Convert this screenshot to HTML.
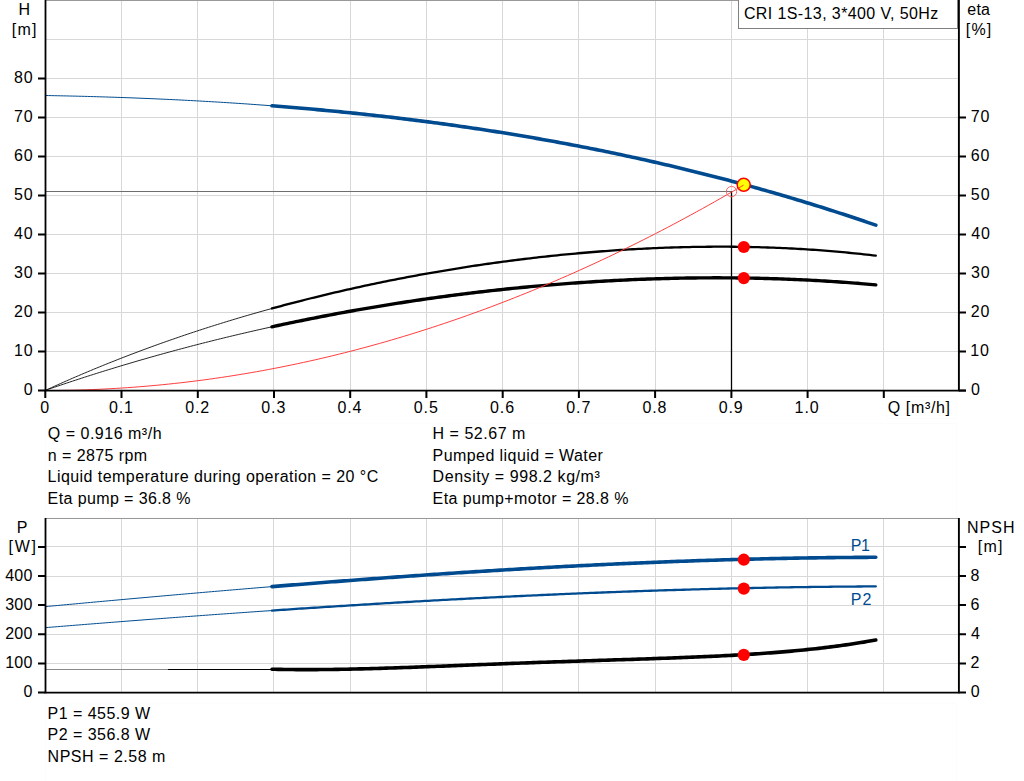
<!DOCTYPE html>
<html><head><meta charset="utf-8"><style>
html,body{margin:0;padding:0;background:#fff;}
body{width:1024px;height:781px;overflow:hidden;}
svg{display:block;}
text{font-family:"Liberation Sans",sans-serif;font-size:16px;fill:#000;}
</style></head><body>
<svg width="1024" height="781" viewBox="0 0 1024 781">

<rect x="45.5" y="423.5" width="911" height="94" fill="none" stroke="#fcfcfc"/>
<rect x="45.5" y="703.5" width="911" height="80" fill="none" stroke="#fcfcfc"/>
<rect x="886.5" y="396.5" width="70" height="22" fill="none" stroke="#fcfcfc"/>
<path d="M121.5 1.0 V390.5 M197.5 1.0 V390.5 M273.5 1.0 V390.5 M350.5 1.0 V390.5 M426.5 1.0 V390.5 M502.5 1.0 V390.5 M578.5 1.0 V390.5 M655.5 1.0 V390.5 M731.5 1.0 V390.5 M807.5 1.0 V390.5 M883.5 1.0 V390.5 M45.5 351.5 H959.0 M45.5 312.5 H959.0 M45.5 273.5 H959.0 M45.5 234.5 H959.0 M45.5 195.5 H959.0 M45.5 156.5 H959.0 M45.5 117.5 H959.0 M45.5 78.5 H959.0 M45.5 39.5 H959.0" stroke="#d6d8da" stroke-width="1" fill="none"/>
<path d="M45 0.5 H959" stroke="#999" stroke-width="1"/>
<path d="M45 191.5 H731.5" stroke="#6e6e6e" stroke-width="1" fill="none"/>
<path d="M731.5 191.5 V390.5" stroke="#000" stroke-width="1.3" fill="none"/>
<path d="M45.30 95.51 L48.32 95.56 L51.35 95.62 L54.37 95.68 L57.39 95.74 L60.41 95.80 L63.44 95.87 L66.46 95.93 L69.48 96.00 L72.50 96.07 L75.53 96.14 L78.55 96.22 L81.57 96.29 L84.59 96.37 L87.62 96.45 L90.64 96.54 L93.66 96.62 L96.69 96.71 L99.71 96.80 L102.73 96.89 L105.75 96.98 L108.78 97.08 L111.80 97.17 L114.82 97.27 L117.84 97.38 L120.87 97.48 L123.89 97.59 L126.91 97.70 L129.93 97.81 L132.96 97.92 L135.98 98.04 L139.00 98.16 L142.03 98.28 L145.05 98.40 L148.07 98.52 L151.09 98.65 L154.12 98.78 L157.14 98.91 L160.16 99.05 L163.18 99.18 L166.21 99.32 L169.23 99.46 L172.25 99.61 L175.27 99.75 L178.30 99.90 L181.32 100.05 L184.34 100.21 L187.37 100.36 L190.39 100.52 L193.41 100.68 L196.43 100.85 L199.46 101.02 L202.48 101.18 L205.50 101.36 L208.52 101.53 L211.55 101.71 L214.57 101.89 L217.59 102.07 L220.61 102.25 L223.64 102.44 L226.66 102.63 L229.68 102.82 L232.71 103.02 L235.73 103.21 L238.75 103.41 L241.77 103.62 L244.80 103.82 L247.82 104.03 L250.84 104.24 L253.86 104.46 L256.89 104.68 L259.91 104.90 L262.93 105.12 L265.95 105.34 L268.98 105.57 L272.00 105.80" stroke="#004b8f" stroke-width="1" fill="none"/>
<path d="M272.00 105.80 L275.00 106.03 L278.01 106.27 L281.01 106.51 L284.02 106.75 L287.02 106.99 L290.02 107.24 L293.03 107.49 L296.03 107.74 L299.04 108.00 L302.04 108.25 L305.04 108.52 L308.05 108.78 L311.05 109.05 L314.06 109.32 L317.06 109.59 L320.06 109.87 L323.07 110.14 L326.07 110.43 L329.08 110.71 L332.08 111.00 L335.08 111.29 L338.09 111.58 L341.09 111.88 L344.10 112.18 L347.10 112.48 L350.10 112.79 L353.11 113.10 L356.11 113.41 L359.12 113.73 L362.12 114.05 L365.12 114.37 L368.13 114.70 L371.13 115.02 L374.14 115.36 L377.14 115.69 L380.14 116.03 L383.15 116.37 L386.15 116.72 L389.16 117.06 L392.16 117.41 L395.16 117.77 L398.17 118.13 L401.17 118.49 L404.18 118.85 L407.18 119.22 L410.18 119.59 L413.19 119.97 L416.19 120.34 L419.20 120.73 L422.20 121.11 L425.20 121.50 L428.21 121.89 L431.21 122.28 L434.21 122.68 L437.22 123.08 L440.22 123.49 L443.23 123.90 L446.23 124.31 L449.23 124.73 L452.24 125.15 L455.24 125.57 L458.25 125.99 L461.25 126.42 L464.25 126.86 L467.26 127.30 L470.26 127.74 L473.27 128.18 L476.27 128.63 L479.27 129.08 L482.28 129.53 L485.28 129.99 L488.29 130.46 L491.29 130.92 L494.29 131.39 L497.30 131.86 L500.30 132.34 L503.31 132.82 L506.31 133.31 L509.31 133.80 L512.32 134.29 L515.32 134.78 L518.33 135.28 L521.33 135.79 L524.33 136.29 L527.34 136.80 L530.34 137.32 L533.35 137.84 L536.35 138.36 L539.35 138.89 L542.36 139.42 L545.36 139.95 L548.37 140.49 L551.37 141.03 L554.37 141.58 L557.38 142.13 L560.38 142.68 L563.39 143.24 L566.39 143.80 L569.39 144.37 L572.40 144.94 L575.40 145.51 L578.41 146.09 L581.41 146.67 L584.41 147.25 L587.42 147.84 L590.42 148.44 L593.43 149.04 L596.43 149.64 L599.43 150.24 L602.44 150.86 L605.44 151.47 L608.45 152.09 L611.45 152.71 L614.45 153.34 L617.46 153.97 L620.46 154.60 L623.47 155.24 L626.47 155.89 L629.47 156.54 L632.48 157.19 L635.48 157.84 L638.49 158.50 L641.49 159.17 L644.49 159.84 L647.50 160.51 L650.50 161.19 L653.51 161.87 L656.51 162.56 L659.51 163.25 L662.52 163.94 L665.52 164.64 L668.53 165.35 L671.53 166.06 L674.53 166.77 L677.54 167.48 L680.54 168.21 L683.55 168.93 L686.55 169.66 L689.55 170.40 L692.56 171.14 L695.56 171.88 L698.57 172.63 L701.57 173.38 L704.57 174.14 L707.58 174.90 L710.58 175.67 L713.59 176.44 L716.59 177.21 L719.59 177.99 L722.60 178.78 L725.60 179.57 L728.60 180.36 L731.61 181.16 L734.61 181.96 L737.62 182.77 L740.62 183.58 L743.62 184.40 L746.63 185.22 L749.63 186.05 L752.64 186.88 L755.64 187.72 L758.64 188.56 L761.65 189.40 L764.65 190.25 L767.66 191.11 L770.66 191.97 L773.66 192.83 L776.67 193.70 L779.67 194.58 L782.68 195.46 L785.68 196.34 L788.68 197.23 L791.69 198.12 L794.69 199.02 L797.70 199.92 L800.70 200.83 L803.70 201.75 L806.71 202.66 L809.71 203.59 L812.72 204.52 L815.72 205.45 L818.72 206.39 L821.73 207.33 L824.73 208.28 L827.74 209.23 L830.74 210.19 L833.74 211.15 L836.75 212.12 L839.75 213.09 L842.76 214.07 L845.76 215.06 L848.76 216.04 L851.77 217.04 L854.77 218.04 L857.78 219.04 L860.78 220.05 L863.78 221.06 L866.79 222.08 L869.79 223.11 L872.80 224.14 L875.80 225.17" stroke="#004b8f" stroke-width="3.6" fill="none" stroke-linecap="round"/>
<path d="M45.30 390.42 L48.32 389.04 L51.35 387.66 L54.37 386.29 L57.39 384.93 L60.41 383.58 L63.44 382.23 L66.46 380.90 L69.48 379.58 L72.50 378.26 L75.53 376.95 L78.55 375.65 L81.57 374.36 L84.59 373.08 L87.62 371.81 L90.64 370.54 L93.66 369.28 L96.69 368.04 L99.71 366.80 L102.73 365.56 L105.75 364.34 L108.78 363.13 L111.80 361.92 L114.82 360.72 L117.84 359.53 L120.87 358.34 L123.89 357.17 L126.91 356.00 L129.93 354.84 L132.96 353.69 L135.98 352.55 L139.00 351.41 L142.03 350.28 L145.05 349.16 L148.07 348.05 L151.09 346.94 L154.12 345.84 L157.14 344.75 L160.16 343.67 L163.18 342.59 L166.21 341.52 L169.23 340.46 L172.25 339.41 L175.27 338.36 L178.30 337.32 L181.32 336.29 L184.34 335.26 L187.37 334.24 L190.39 333.23 L193.41 332.23 L196.43 331.23 L199.46 330.24 L202.48 329.25 L205.50 328.28 L208.52 327.31 L211.55 326.34 L214.57 325.39 L217.59 324.44 L220.61 323.50 L223.64 322.56 L226.66 321.63 L229.68 320.71 L232.71 319.79 L235.73 318.88 L238.75 317.98 L241.77 317.08 L244.80 316.19 L247.82 315.31 L250.84 314.43 L253.86 313.56 L256.89 312.70 L259.91 311.84 L262.93 310.99 L265.95 310.14 L268.98 309.30 L272.00 308.47" stroke="#1a1a1a" stroke-width="0.95" fill="none"/>
<path d="M272.00 308.47 L275.00 307.65 L278.01 306.83 L281.01 306.02 L284.02 305.22 L287.02 304.42 L290.02 303.63 L293.03 302.84 L296.03 302.06 L299.04 301.29 L302.04 300.52 L305.04 299.76 L308.05 299.00 L311.05 298.25 L314.06 297.51 L317.06 296.77 L320.06 296.04 L323.07 295.31 L326.07 294.59 L329.08 293.87 L332.08 293.16 L335.08 292.46 L338.09 291.76 L341.09 291.07 L344.10 290.38 L347.10 289.70 L350.10 289.02 L353.11 288.35 L356.11 287.69 L359.12 287.03 L362.12 286.37 L365.12 285.72 L368.13 285.08 L371.13 284.44 L374.14 283.81 L377.14 283.18 L380.14 282.56 L383.15 281.95 L386.15 281.34 L389.16 280.73 L392.16 280.13 L395.16 279.54 L398.17 278.95 L401.17 278.37 L404.18 277.79 L407.18 277.22 L410.18 276.65 L413.19 276.09 L416.19 275.53 L419.20 274.98 L422.20 274.44 L425.20 273.90 L428.21 273.36 L431.21 272.83 L434.21 272.31 L437.22 271.79 L440.22 271.27 L443.23 270.76 L446.23 270.26 L449.23 269.76 L452.24 269.27 L455.24 268.78 L458.25 268.30 L461.25 267.82 L464.25 267.35 L467.26 266.88 L470.26 266.42 L473.27 265.96 L476.27 265.51 L479.27 265.06 L482.28 264.62 L485.28 264.19 L488.29 263.76 L491.29 263.33 L494.29 262.91 L497.30 262.50 L500.30 262.09 L503.31 261.68 L506.31 261.28 L509.31 260.89 L512.32 260.50 L515.32 260.11 L518.33 259.74 L521.33 259.36 L524.33 258.99 L527.34 258.63 L530.34 258.27 L533.35 257.92 L536.35 257.57 L539.35 257.23 L542.36 256.89 L545.36 256.56 L548.37 256.24 L551.37 255.92 L554.37 255.60 L557.38 255.29 L560.38 254.98 L563.39 254.68 L566.39 254.39 L569.39 254.10 L572.40 253.82 L575.40 253.54 L578.41 253.27 L581.41 253.00 L584.41 252.73 L587.42 252.48 L590.42 252.23 L593.43 251.98 L596.43 251.74 L599.43 251.50 L602.44 251.27 L605.44 251.05 L608.45 250.83 L611.45 250.61 L614.45 250.41 L617.46 250.20 L620.46 250.01 L623.47 249.81 L626.47 249.63 L629.47 249.45 L632.48 249.27 L635.48 249.10 L638.49 248.94 L641.49 248.78 L644.49 248.63 L647.50 248.48 L650.50 248.34 L653.51 248.20 L656.51 248.07 L659.51 247.95 L662.52 247.83 L665.52 247.72 L668.53 247.61 L671.53 247.51 L674.53 247.41 L677.54 247.32 L680.54 247.24 L683.55 247.16 L686.55 247.09 L689.55 247.03 L692.56 246.97 L695.56 246.91 L698.57 246.86 L701.57 246.82 L704.57 246.79 L707.58 246.76 L710.58 246.73 L713.59 246.72 L716.59 246.70 L719.59 246.70 L722.60 246.70 L725.60 246.71 L728.60 246.72 L731.61 246.74 L734.61 246.77 L737.62 246.80 L740.62 246.84 L743.62 246.88 L746.63 246.93 L749.63 246.99 L752.64 247.06 L755.64 247.13 L758.64 247.20 L761.65 247.29 L764.65 247.38 L767.66 247.48 L770.66 247.58 L773.66 247.69 L776.67 247.81 L779.67 247.93 L782.68 248.06 L785.68 248.20 L788.68 248.35 L791.69 248.50 L794.69 248.66 L797.70 248.82 L800.70 248.99 L803.70 249.17 L806.71 249.36 L809.71 249.55 L812.72 249.76 L815.72 249.96 L818.72 250.18 L821.73 250.40 L824.73 250.63 L827.74 250.87 L830.74 251.11 L833.74 251.37 L836.75 251.62 L839.75 251.89 L842.76 252.17 L845.76 252.45 L848.76 252.74 L851.77 253.03 L854.77 253.34 L857.78 253.65 L860.78 253.97 L863.78 254.30 L866.79 254.64 L869.79 254.98 L872.80 255.33 L875.80 255.69" stroke="#000" stroke-width="2.3" fill="none" stroke-linecap="round"/>
<path d="M45.30 390.38 L48.32 389.33 L51.35 388.29 L54.37 387.26 L57.39 386.23 L60.41 385.21 L63.44 384.19 L66.46 383.18 L69.48 382.17 L72.50 381.17 L75.53 380.18 L78.55 379.19 L81.57 378.21 L84.59 377.23 L87.62 376.26 L90.64 375.29 L93.66 374.33 L96.69 373.37 L99.71 372.42 L102.73 371.48 L105.75 370.54 L108.78 369.61 L111.80 368.68 L114.82 367.75 L117.84 366.84 L120.87 365.92 L123.89 365.02 L126.91 364.12 L129.93 363.22 L132.96 362.33 L135.98 361.44 L139.00 360.56 L142.03 359.69 L145.05 358.82 L148.07 357.95 L151.09 357.09 L154.12 356.24 L157.14 355.39 L160.16 354.55 L163.18 353.71 L166.21 352.87 L169.23 352.04 L172.25 351.22 L175.27 350.40 L178.30 349.59 L181.32 348.78 L184.34 347.98 L187.37 347.18 L190.39 346.38 L193.41 345.59 L196.43 344.81 L199.46 344.03 L202.48 343.26 L205.50 342.49 L208.52 341.73 L211.55 340.97 L214.57 340.21 L217.59 339.46 L220.61 338.72 L223.64 337.98 L226.66 337.25 L229.68 336.52 L232.71 335.79 L235.73 335.07 L238.75 334.36 L241.77 333.64 L244.80 332.94 L247.82 332.24 L250.84 331.54 L253.86 330.85 L256.89 330.16 L259.91 329.48 L262.93 328.80 L265.95 328.13 L268.98 327.46 L272.00 326.80" stroke="#1a1a1a" stroke-width="0.95" fill="none"/>
<path d="M272.00 326.80 L275.00 326.14 L278.01 325.49 L281.01 324.85 L284.02 324.21 L287.02 323.57 L290.02 322.94 L293.03 322.31 L296.03 321.69 L299.04 321.07 L302.04 320.46 L305.04 319.85 L308.05 319.24 L311.05 318.64 L314.06 318.05 L317.06 317.46 L320.06 316.87 L323.07 316.29 L326.07 315.71 L329.08 315.14 L332.08 314.57 L335.08 314.01 L338.09 313.45 L341.09 312.89 L344.10 312.34 L347.10 311.79 L350.10 311.25 L353.11 310.71 L356.11 310.18 L359.12 309.65 L362.12 309.13 L365.12 308.61 L368.13 308.09 L371.13 307.58 L374.14 307.07 L377.14 306.57 L380.14 306.07 L383.15 305.58 L386.15 305.09 L389.16 304.60 L392.16 304.12 L395.16 303.65 L398.17 303.17 L401.17 302.71 L404.18 302.24 L407.18 301.78 L410.18 301.33 L413.19 300.88 L416.19 300.43 L419.20 299.99 L422.20 299.55 L425.20 299.12 L428.21 298.69 L431.21 298.27 L434.21 297.85 L437.22 297.43 L440.22 297.02 L443.23 296.61 L446.23 296.21 L449.23 295.81 L452.24 295.41 L455.24 295.02 L458.25 294.64 L461.25 294.26 L464.25 293.88 L467.26 293.51 L470.26 293.14 L473.27 292.77 L476.27 292.41 L479.27 292.06 L482.28 291.71 L485.28 291.36 L488.29 291.02 L491.29 290.68 L494.29 290.34 L497.30 290.01 L500.30 289.69 L503.31 289.37 L506.31 289.05 L509.31 288.74 L512.32 288.43 L515.32 288.13 L518.33 287.83 L521.33 287.53 L524.33 287.24 L527.34 286.95 L530.34 286.67 L533.35 286.39 L536.35 286.12 L539.35 285.85 L542.36 285.58 L545.36 285.32 L548.37 285.07 L551.37 284.81 L554.37 284.57 L557.38 284.32 L560.38 284.08 L563.39 283.85 L566.39 283.62 L569.39 283.39 L572.40 283.17 L575.40 282.95 L578.41 282.74 L581.41 282.53 L584.41 282.33 L587.42 282.13 L590.42 281.93 L593.43 281.74 L596.43 281.56 L599.43 281.38 L602.44 281.20 L605.44 281.03 L608.45 280.86 L611.45 280.69 L614.45 280.53 L617.46 280.38 L620.46 280.23 L623.47 280.08 L626.47 279.94 L629.47 279.80 L632.48 279.67 L635.48 279.54 L638.49 279.42 L641.49 279.30 L644.49 279.18 L647.50 279.07 L650.50 278.97 L653.51 278.87 L656.51 278.77 L659.51 278.68 L662.52 278.59 L665.52 278.51 L668.53 278.43 L671.53 278.36 L674.53 278.29 L677.54 278.23 L680.54 278.17 L683.55 278.11 L686.55 278.06 L689.55 278.02 L692.56 277.98 L695.56 277.94 L698.57 277.91 L701.57 277.88 L704.57 277.86 L707.58 277.84 L710.58 277.83 L713.59 277.82 L716.59 277.82 L719.59 277.82 L722.60 277.83 L725.60 277.84 L728.60 277.86 L731.61 277.88 L734.61 277.90 L737.62 277.93 L740.62 277.97 L743.62 278.01 L746.63 278.06 L749.63 278.11 L752.64 278.16 L755.64 278.22 L758.64 278.29 L761.65 278.36 L764.65 278.43 L767.66 278.51 L770.66 278.60 L773.66 278.69 L776.67 278.78 L779.67 278.89 L782.68 278.99 L785.68 279.10 L788.68 279.22 L791.69 279.34 L794.69 279.46 L797.70 279.60 L800.70 279.73 L803.70 279.87 L806.71 280.02 L809.71 280.17 L812.72 280.33 L815.72 280.49 L818.72 280.66 L821.73 280.83 L824.73 281.01 L827.74 281.19 L830.74 281.38 L833.74 281.58 L836.75 281.78 L839.75 281.98 L842.76 282.19 L845.76 282.41 L848.76 282.63 L851.77 282.85 L854.77 283.09 L857.78 283.32 L860.78 283.57 L863.78 283.82 L866.79 284.07 L869.79 284.33 L872.80 284.59 L875.80 284.87" stroke="#000" stroke-width="3.4" fill="none" stroke-linecap="round"/>
<circle cx="743.8" cy="247" r="6.1" fill="#ff0000"/>
<circle cx="743.8" cy="278.1" r="6.1" fill="#ff0000"/>
<circle cx="743.7" cy="184.8" r="6.5" fill="#ffff00" stroke="#ff0000" stroke-width="1.5"/>
<path d="M45.30 390.50 L51.17 390.49 L57.04 390.44 L62.90 390.37 L68.77 390.27 L74.64 390.14 L80.51 389.98 L86.37 389.79 L92.24 389.57 L98.11 389.33 L103.98 389.05 L109.85 388.74 L115.71 388.41 L121.58 388.05 L127.45 387.66 L133.32 387.24 L139.18 386.79 L145.05 386.31 L150.92 385.80 L156.79 385.26 L162.66 384.70 L168.52 384.10 L174.39 383.48 L180.26 382.83 L186.13 382.15 L191.99 381.43 L197.86 380.69 L203.73 379.93 L209.60 379.13 L215.47 378.30 L221.33 377.45 L227.20 376.56 L233.07 375.65 L238.94 374.70 L244.80 373.73 L250.67 372.73 L256.54 371.70 L262.41 370.64 L268.28 369.55 L274.14 368.44 L280.01 367.29 L285.88 366.12 L291.75 364.91 L297.61 363.68 L303.48 362.42 L309.35 361.13 L315.22 359.81 L321.09 358.46 L326.95 357.08 L332.82 355.67 L338.69 354.24 L344.56 352.77 L350.42 351.28 L356.29 349.76 L362.16 348.20 L368.03 346.62 L373.90 345.01 L379.76 343.37 L385.63 341.71 L391.50 340.01 L397.37 338.28 L403.24 336.53 L409.10 334.74 L414.97 332.93 L420.84 331.09 L426.71 329.22 L432.57 327.32 L438.44 325.39 L444.31 323.43 L450.18 321.44 L456.05 319.43 L461.91 317.38 L467.78 315.31 L473.65 313.20 L479.52 311.07 L485.38 308.91 L491.25 306.72 L497.12 304.50 L502.99 302.25 L508.86 299.98 L514.72 297.67 L520.59 295.33 L526.46 292.97 L532.33 290.58 L538.19 288.15 L544.06 285.70 L549.93 283.22 L555.80 280.71 L561.67 278.17 L567.53 275.61 L573.40 273.01 L579.27 270.39 L585.14 267.73 L591.00 265.05 L596.87 262.33 L602.74 259.59 L608.61 256.82 L614.48 254.02 L620.34 251.20 L626.21 248.34 L632.08 245.45 L637.95 242.54 L643.81 239.59 L649.68 236.62 L655.55 233.62 L661.42 230.58 L667.29 227.52 L673.15 224.43 L679.02 221.32 L684.89 218.17 L690.76 214.99 L696.62 211.79 L702.49 208.55 L708.36 205.29 L714.23 201.99 L720.10 198.67 L725.96 195.32 L731.83 191.94 L737.70 188.53 L743.57 185.10" stroke="#ff3333" stroke-width="0.95" fill="none"/>
<circle cx="731.5" cy="191.6" r="5.2" fill="none" stroke="#ff6666" stroke-width="1"/>
<path d="M45.5 0 V391.3" stroke="#000" stroke-width="1.8" fill="none"/>
<path d="M44.6 390.6 H966" stroke="#000" stroke-width="1.6" fill="none"/>
<path d="M958.9 0 V391.3" stroke="#000" stroke-width="1.9" fill="none"/>
<path d="M38 390.5 H45 M38 351.5 H45 M38 312.5 H45 M38 273.5 H45 M38 234.5 H45 M38 195.5 H45 M38 156.5 H45 M38 117.5 H45 M38 78.5 H45 M959 390.5 H966 M959 351.5 H966 M959 312.5 H966 M959 273.5 H966 M959 234.5 H966 M959 195.5 H966 M959 156.5 H966 M959 117.5 H966 M45.3 390.5 V398 M121.5 390.5 V398 M197.8 390.5 V398 M274.0 390.5 V398 M350.2 390.5 V398 M426.4 390.5 V398 M502.7 390.5 V398 M578.9 390.5 V398 M655.1 390.5 V398 M731.4 390.5 V398 M807.6 390.5 V398 M883.8 390.5 V398" stroke="#000" stroke-width="2" fill="none"/>
<text x="23.73" y="395.30" style="letter-spacing:0.900px;">0</text>
<text x="13.93" y="356.30" style="letter-spacing:0.900px;">10</text>
<text x="13.93" y="317.30" style="letter-spacing:0.900px;">20</text>
<text x="13.93" y="278.30" style="letter-spacing:0.900px;">30</text>
<text x="13.93" y="239.30" style="letter-spacing:0.900px;">40</text>
<text x="13.93" y="200.30" style="letter-spacing:0.900px;">50</text>
<text x="13.93" y="161.30" style="letter-spacing:0.900px;">60</text>
<text x="13.93" y="122.30" style="letter-spacing:0.900px;">70</text>
<text x="13.93" y="83.30" style="letter-spacing:0.900px;">80</text>
<text x="970.88" y="395.30" style="letter-spacing:0.900px;">0</text>
<text x="970.28" y="356.30" style="letter-spacing:0.900px;">10</text>
<text x="970.70" y="317.30" style="letter-spacing:0.900px;">20</text>
<text x="970.89" y="278.30" style="letter-spacing:0.900px;">30</text>
<text x="971.13" y="239.30" style="letter-spacing:0.900px;">40</text>
<text x="970.86" y="200.30" style="letter-spacing:0.900px;">50</text>
<text x="970.69" y="161.30" style="letter-spacing:0.900px;">60</text>
<text x="970.68" y="122.30" style="letter-spacing:0.900px;">70</text>
<text x="40.15" y="412.80" style="letter-spacing:0.900px;">0</text>
<text x="108.89" y="412.80" style="letter-spacing:0.900px;">0.1</text>
<text x="185.13" y="412.80" style="letter-spacing:0.900px;">0.2</text>
<text x="261.31" y="412.80" style="letter-spacing:0.900px;">0.3</text>
<text x="337.42" y="412.80" style="letter-spacing:0.900px;">0.4</text>
<text x="413.75" y="412.80" style="letter-spacing:0.900px;">0.5</text>
<text x="490.00" y="412.80" style="letter-spacing:0.900px;">0.6</text>
<text x="566.28" y="412.80" style="letter-spacing:0.900px;">0.7</text>
<text x="642.45" y="412.80" style="letter-spacing:0.900px;">0.8</text>
<text x="718.72" y="412.80" style="letter-spacing:0.900px;">0.9</text>
<text x="794.58" y="412.80" style="letter-spacing:0.900px;">1.0</text>
<text x="887.64" y="413.00" style="letter-spacing:0.660px;">Q [m³/h]</text>
<text x="18.59" y="15.00" style="letter-spacing:0.000px;">H</text>
<text x="11.66" y="34.80" style="letter-spacing:1.281px;">[m]</text>
<text x="967.22" y="15.20" style="letter-spacing:0.269px;">eta</text>
<text x="965.86" y="34.80" style="letter-spacing:1.082px;">[%]</text>
<rect x="738.5" y="-1" width="219" height="29.5" fill="#fff" stroke="#808080" stroke-width="1"/>
<text x="743.89" y="18.80" style="letter-spacing:0.398px;">CRI 1S-13, 3*400 V, 50Hz</text>
<text x="47.84" y="438.75" style="letter-spacing:0.503px;">Q = 0.916 m³/h</text>
<text x="47.84" y="460.50" style="letter-spacing:0.417px;">n = 2875 rpm</text>
<text x="47.59" y="481.90" style="letter-spacing:0.445px;">Liquid temperature during operation = 20 °C</text>
<text x="47.59" y="503.80" style="letter-spacing:0.397px;">Eta pump = 36.8 %</text>
<text x="432.59" y="438.75" style="letter-spacing:0.517px;">H = 52.67 m</text>
<text x="432.59" y="460.50" style="letter-spacing:0.429px;">Pumped liquid = Water</text>
<text x="432.59" y="481.90" style="letter-spacing:0.558px;">Density = 998.2 kg/m³</text>
<text x="432.59" y="503.80" style="letter-spacing:0.410px;">Eta pump+motor = 28.8 %</text>
<path d="M121.5 519.0 V692.0 M197.5 519.0 V692.0 M273.5 519.0 V692.0 M350.5 519.0 V692.0 M426.5 519.0 V692.0 M502.5 519.0 V692.0 M578.5 519.0 V692.0 M655.5 519.0 V692.0 M731.5 519.0 V692.0 M807.5 519.0 V692.0 M883.5 519.0 V692.0 M45.5 663.5 H959.0 M45.5 634.5 H959.0 M45.5 605.5 H959.0 M45.5 576.5 H959.0 M45.5 546.5 H959.0" stroke="#d6d8da" stroke-width="1" fill="none"/>
<path d="M45 518.5 H959" stroke="#999" stroke-width="1"/>
<path d="M45.30 606.62 L48.32 606.34 L51.35 606.06 L54.37 605.78 L57.39 605.50 L60.41 605.22 L63.44 604.94 L66.46 604.66 L69.48 604.38 L72.50 604.11 L75.53 603.83 L78.55 603.55 L81.57 603.27 L84.59 602.99 L87.62 602.72 L90.64 602.44 L93.66 602.16 L96.69 601.89 L99.71 601.61 L102.73 601.34 L105.75 601.06 L108.78 600.79 L111.80 600.51 L114.82 600.24 L117.84 599.97 L120.87 599.69 L123.89 599.42 L126.91 599.15 L129.93 598.87 L132.96 598.60 L135.98 598.33 L139.00 598.06 L142.03 597.79 L145.05 597.52 L148.07 597.25 L151.09 596.98 L154.12 596.71 L157.14 596.44 L160.16 596.18 L163.18 595.91 L166.21 595.64 L169.23 595.37 L172.25 595.11 L175.27 594.84 L178.30 594.58 L181.32 594.31 L184.34 594.05 L187.37 593.78 L190.39 593.52 L193.41 593.26 L196.43 593.00 L199.46 592.73 L202.48 592.47 L205.50 592.21 L208.52 591.95 L211.55 591.69 L214.57 591.43 L217.59 591.18 L220.61 590.92 L223.64 590.66 L226.66 590.40 L229.68 590.15 L232.71 589.89 L235.73 589.64 L238.75 589.38 L241.77 589.13 L244.80 588.87 L247.82 588.62 L250.84 588.37 L253.86 588.12 L256.89 587.87 L259.91 587.62 L262.93 587.37 L265.95 587.12 L268.98 586.87 L272.00 586.62" stroke="#004b8f" stroke-width="1" fill="none"/>
<path d="M272.00 586.62 L275.00 586.37 L278.01 586.13 L281.01 585.88 L284.02 585.64 L287.02 585.40 L290.02 585.16 L293.03 584.91 L296.03 584.67 L299.04 584.43 L302.04 584.19 L305.04 583.95 L308.05 583.71 L311.05 583.48 L314.06 583.24 L317.06 583.00 L320.06 582.77 L323.07 582.53 L326.07 582.30 L329.08 582.07 L332.08 581.83 L335.08 581.60 L338.09 581.37 L341.09 581.14 L344.10 580.91 L347.10 580.68 L350.10 580.45 L353.11 580.23 L356.11 580.00 L359.12 579.78 L362.12 579.55 L365.12 579.33 L368.13 579.10 L371.13 578.88 L374.14 578.66 L377.14 578.44 L380.14 578.22 L383.15 578.00 L386.15 577.78 L389.16 577.56 L392.16 577.35 L395.16 577.13 L398.17 576.92 L401.17 576.70 L404.18 576.49 L407.18 576.28 L410.18 576.06 L413.19 575.85 L416.19 575.64 L419.20 575.44 L422.20 575.23 L425.20 575.02 L428.21 574.81 L431.21 574.61 L434.21 574.41 L437.22 574.20 L440.22 574.00 L443.23 573.80 L446.23 573.60 L449.23 573.40 L452.24 573.20 L455.24 573.00 L458.25 572.81 L461.25 572.61 L464.25 572.42 L467.26 572.22 L470.26 572.03 L473.27 571.84 L476.27 571.65 L479.27 571.46 L482.28 571.27 L485.28 571.08 L488.29 570.89 L491.29 570.71 L494.29 570.52 L497.30 570.34 L500.30 570.16 L503.31 569.98 L506.31 569.79 L509.31 569.62 L512.32 569.44 L515.32 569.26 L518.33 569.08 L521.33 568.91 L524.33 568.73 L527.34 568.56 L530.34 568.39 L533.35 568.22 L536.35 568.05 L539.35 567.88 L542.36 567.71 L545.36 567.55 L548.37 567.38 L551.37 567.22 L554.37 567.05 L557.38 566.89 L560.38 566.73 L563.39 566.57 L566.39 566.41 L569.39 566.26 L572.40 566.10 L575.40 565.95 L578.41 565.79 L581.41 565.64 L584.41 565.49 L587.42 565.34 L590.42 565.19 L593.43 565.04 L596.43 564.89 L599.43 564.75 L602.44 564.61 L605.44 564.46 L608.45 564.32 L611.45 564.18 L614.45 564.04 L617.46 563.90 L620.46 563.77 L623.47 563.63 L626.47 563.50 L629.47 563.36 L632.48 563.23 L635.48 563.10 L638.49 562.97 L641.49 562.85 L644.49 562.72 L647.50 562.59 L650.50 562.47 L653.51 562.35 L656.51 562.23 L659.51 562.11 L662.52 561.99 L665.52 561.87 L668.53 561.76 L671.53 561.64 L674.53 561.53 L677.54 561.42 L680.54 561.31 L683.55 561.20 L686.55 561.09 L689.55 560.98 L692.56 560.88 L695.56 560.77 L698.57 560.67 L701.57 560.57 L704.57 560.47 L707.58 560.37 L710.58 560.28 L713.59 560.18 L716.59 560.09 L719.59 560.00 L722.60 559.91 L725.60 559.82 L728.60 559.73 L731.61 559.64 L734.61 559.56 L737.62 559.47 L740.62 559.39 L743.62 559.31 L746.63 559.23 L749.63 559.15 L752.64 559.08 L755.64 559.00 L758.64 558.93 L761.65 558.86 L764.65 558.79 L767.66 558.72 L770.66 558.65 L773.66 558.59 L776.67 558.52 L779.67 558.46 L782.68 558.40 L785.68 558.34 L788.68 558.28 L791.69 558.22 L794.69 558.17 L797.70 558.12 L800.70 558.07 L803.70 558.02 L806.71 557.97 L809.71 557.92 L812.72 557.87 L815.72 557.83 L818.72 557.79 L821.73 557.75 L824.73 557.71 L827.74 557.67 L830.74 557.64 L833.74 557.60 L836.75 557.57 L839.75 557.54 L842.76 557.51 L845.76 557.48 L848.76 557.46 L851.77 557.43 L854.77 557.41 L857.78 557.39 L860.78 557.37 L863.78 557.35 L866.79 557.34 L869.79 557.32 L872.80 557.31 L875.80 557.30" stroke="#004b8f" stroke-width="3.6" fill="none" stroke-linecap="round"/>
<path d="M45.30 627.65 L48.32 627.40 L51.35 627.16 L54.37 626.91 L57.39 626.67 L60.41 626.42 L63.44 626.18 L66.46 625.94 L69.48 625.69 L72.50 625.45 L75.53 625.21 L78.55 624.97 L81.57 624.72 L84.59 624.48 L87.62 624.24 L90.64 624.00 L93.66 623.76 L96.69 623.52 L99.71 623.29 L102.73 623.05 L105.75 622.81 L108.78 622.57 L111.80 622.34 L114.82 622.10 L117.84 621.86 L120.87 621.63 L123.89 621.39 L126.91 621.16 L129.93 620.93 L132.96 620.69 L135.98 620.46 L139.00 620.23 L142.03 620.00 L145.05 619.76 L148.07 619.53 L151.09 619.30 L154.12 619.07 L157.14 618.84 L160.16 618.62 L163.18 618.39 L166.21 618.16 L169.23 617.93 L172.25 617.71 L175.27 617.48 L178.30 617.25 L181.32 617.03 L184.34 616.80 L187.37 616.58 L190.39 616.36 L193.41 616.13 L196.43 615.91 L199.46 615.69 L202.48 615.47 L205.50 615.25 L208.52 615.03 L211.55 614.81 L214.57 614.59 L217.59 614.37 L220.61 614.15 L223.64 613.94 L226.66 613.72 L229.68 613.51 L232.71 613.29 L235.73 613.08 L238.75 612.86 L241.77 612.65 L244.80 612.44 L247.82 612.22 L250.84 612.01 L253.86 611.80 L256.89 611.59 L259.91 611.38 L262.93 611.17 L265.95 610.96 L268.98 610.75 L272.00 610.55" stroke="#004b8f" stroke-width="1" fill="none"/>
<path d="M272.00 610.55 L275.00 610.34 L278.01 610.14 L281.01 609.93 L284.02 609.73 L287.02 609.53 L290.02 609.33 L293.03 609.12 L296.03 608.92 L299.04 608.72 L302.04 608.52 L305.04 608.32 L308.05 608.13 L311.05 607.93 L314.06 607.73 L317.06 607.54 L320.06 607.34 L323.07 607.15 L326.07 606.95 L329.08 606.76 L332.08 606.57 L335.08 606.37 L338.09 606.18 L341.09 605.99 L344.10 605.80 L347.10 605.61 L350.10 605.43 L353.11 605.24 L356.11 605.05 L359.12 604.87 L362.12 604.68 L365.12 604.50 L368.13 604.31 L371.13 604.13 L374.14 603.95 L377.14 603.76 L380.14 603.58 L383.15 603.40 L386.15 603.22 L389.16 603.04 L392.16 602.87 L395.16 602.69 L398.17 602.51 L401.17 602.34 L404.18 602.16 L407.18 601.99 L410.18 601.81 L413.19 601.64 L416.19 601.47 L419.20 601.30 L422.20 601.13 L425.20 600.96 L428.21 600.79 L431.21 600.62 L434.21 600.46 L437.22 600.29 L440.22 600.13 L443.23 599.96 L446.23 599.80 L449.23 599.63 L452.24 599.47 L455.24 599.31 L458.25 599.15 L461.25 598.99 L464.25 598.83 L467.26 598.67 L470.26 598.52 L473.27 598.36 L476.27 598.21 L479.27 598.05 L482.28 597.90 L485.28 597.74 L488.29 597.59 L491.29 597.44 L494.29 597.29 L497.30 597.14 L500.30 596.99 L503.31 596.85 L506.31 596.70 L509.31 596.55 L512.32 596.41 L515.32 596.27 L518.33 596.12 L521.33 595.98 L524.33 595.84 L527.34 595.70 L530.34 595.56 L533.35 595.42 L536.35 595.28 L539.35 595.15 L542.36 595.01 L545.36 594.88 L548.37 594.74 L551.37 594.61 L554.37 594.48 L557.38 594.34 L560.38 594.21 L563.39 594.09 L566.39 593.96 L569.39 593.83 L572.40 593.70 L575.40 593.58 L578.41 593.45 L581.41 593.33 L584.41 593.21 L587.42 593.09 L590.42 592.96 L593.43 592.85 L596.43 592.73 L599.43 592.61 L602.44 592.49 L605.44 592.38 L608.45 592.26 L611.45 592.15 L614.45 592.04 L617.46 591.92 L620.46 591.81 L623.47 591.70 L626.47 591.59 L629.47 591.49 L632.48 591.38 L635.48 591.27 L638.49 591.17 L641.49 591.07 L644.49 590.96 L647.50 590.86 L650.50 590.76 L653.51 590.66 L656.51 590.56 L659.51 590.47 L662.52 590.37 L665.52 590.27 L668.53 590.18 L671.53 590.09 L674.53 590.00 L677.54 589.90 L680.54 589.81 L683.55 589.73 L686.55 589.64 L689.55 589.55 L692.56 589.47 L695.56 589.38 L698.57 589.30 L701.57 589.21 L704.57 589.13 L707.58 589.05 L710.58 588.97 L713.59 588.90 L716.59 588.82 L719.59 588.74 L722.60 588.67 L725.60 588.60 L728.60 588.52 L731.61 588.45 L734.61 588.38 L737.62 588.31 L740.62 588.24 L743.62 588.18 L746.63 588.11 L749.63 588.05 L752.64 587.98 L755.64 587.92 L758.64 587.86 L761.65 587.80 L764.65 587.74 L767.66 587.68 L770.66 587.63 L773.66 587.57 L776.67 587.52 L779.67 587.47 L782.68 587.41 L785.68 587.36 L788.68 587.31 L791.69 587.27 L794.69 587.22 L797.70 587.17 L800.70 587.13 L803.70 587.09 L806.71 587.04 L809.71 587.00 L812.72 586.96 L815.72 586.92 L818.72 586.89 L821.73 586.85 L824.73 586.82 L827.74 586.78 L830.74 586.75 L833.74 586.72 L836.75 586.69 L839.75 586.66 L842.76 586.63 L845.76 586.61 L848.76 586.58 L851.77 586.56 L854.77 586.53 L857.78 586.51 L860.78 586.49 L863.78 586.47 L866.79 586.46 L869.79 586.44 L872.80 586.43 L875.80 586.41" stroke="#004b8f" stroke-width="2.3" fill="none" stroke-linecap="round"/>
<path d="M45.3 669.5 L168 669.5" stroke="#8a8a8a" stroke-width="1" fill="none"/>
<path d="M168 669.5 L274 669.5" stroke="#000" stroke-width="1" fill="none"/>
<path d="M272.00 669.20 L275.00 669.28 L278.01 669.34 L281.01 669.40 L284.02 669.45 L287.02 669.49 L290.02 669.53 L293.03 669.56 L296.03 669.58 L299.04 669.60 L302.04 669.61 L305.04 669.62 L308.05 669.62 L311.05 669.61 L314.06 669.60 L317.06 669.59 L320.06 669.57 L323.07 669.54 L326.07 669.51 L329.08 669.48 L332.08 669.44 L335.08 669.40 L338.09 669.35 L341.09 669.30 L344.10 669.24 L347.10 669.19 L350.10 669.12 L353.11 669.06 L356.11 668.99 L359.12 668.92 L362.12 668.84 L365.12 668.76 L368.13 668.68 L371.13 668.60 L374.14 668.51 L377.14 668.43 L380.14 668.34 L383.15 668.24 L386.15 668.15 L389.16 668.05 L392.16 667.95 L395.16 667.85 L398.17 667.75 L401.17 667.65 L404.18 667.54 L407.18 667.43 L410.18 667.33 L413.19 667.22 L416.19 667.11 L419.20 667.00 L422.20 666.88 L425.20 666.77 L428.21 666.66 L431.21 666.54 L434.21 666.43 L437.22 666.31 L440.22 666.19 L443.23 666.08 L446.23 665.96 L449.23 665.84 L452.24 665.73 L455.24 665.61 L458.25 665.49 L461.25 665.37 L464.25 665.25 L467.26 665.14 L470.26 665.02 L473.27 664.90 L476.27 664.78 L479.27 664.67 L482.28 664.55 L485.28 664.43 L488.29 664.32 L491.29 664.20 L494.29 664.08 L497.30 663.97 L500.30 663.85 L503.31 663.74 L506.31 663.63 L509.31 663.51 L512.32 663.40 L515.32 663.29 L518.33 663.18 L521.33 663.07 L524.33 662.96 L527.34 662.85 L530.34 662.74 L533.35 662.63 L536.35 662.52 L539.35 662.42 L542.36 662.31 L545.36 662.20 L548.37 662.10 L551.37 662.00 L554.37 661.89 L557.38 661.79 L560.38 661.69 L563.39 661.58 L566.39 661.48 L569.39 661.38 L572.40 661.28 L575.40 661.18 L578.41 661.08 L581.41 660.98 L584.41 660.89 L587.42 660.79 L590.42 660.69 L593.43 660.59 L596.43 660.50 L599.43 660.40 L602.44 660.30 L605.44 660.21 L608.45 660.11 L611.45 660.01 L614.45 659.92 L617.46 659.82 L620.46 659.72 L623.47 659.62 L626.47 659.53 L629.47 659.43 L632.48 659.33 L635.48 659.23 L638.49 659.13 L641.49 659.03 L644.49 658.93 L647.50 658.83 L650.50 658.73 L653.51 658.63 L656.51 658.53 L659.51 658.42 L662.52 658.31 L665.52 658.21 L668.53 658.10 L671.53 657.99 L674.53 657.88 L677.54 657.76 L680.54 657.65 L683.55 657.53 L686.55 657.41 L689.55 657.29 L692.56 657.17 L695.56 657.05 L698.57 656.92 L701.57 656.79 L704.57 656.66 L707.58 656.52 L710.58 656.38 L713.59 656.24 L716.59 656.10 L719.59 655.95 L722.60 655.80 L725.60 655.65 L728.60 655.49 L731.61 655.33 L734.61 655.16 L737.62 654.99 L740.62 654.82 L743.62 654.64 L746.63 654.46 L749.63 654.27 L752.64 654.08 L755.64 653.89 L758.64 653.68 L761.65 653.48 L764.65 653.27 L767.66 653.05 L770.66 652.83 L773.66 652.60 L776.67 652.36 L779.67 652.12 L782.68 651.87 L785.68 651.62 L788.68 651.36 L791.69 651.09 L794.69 650.82 L797.70 650.53 L800.70 650.24 L803.70 649.95 L806.71 649.64 L809.71 649.33 L812.72 649.01 L815.72 648.68 L818.72 648.34 L821.73 647.99 L824.73 647.64 L827.74 647.27 L830.74 646.90 L833.74 646.51 L836.75 646.12 L839.75 645.72 L842.76 645.30 L845.76 644.88 L848.76 644.44 L851.77 643.99 L854.77 643.54 L857.78 643.07 L860.78 642.59 L863.78 642.10 L866.79 641.59 L869.79 641.08 L872.80 640.55 L875.80 640.00" stroke="#000" stroke-width="3.6" fill="none" stroke-linecap="round"/>
<circle cx="743.8" cy="559.7" r="6.1" fill="#ff0000"/>
<circle cx="743.8" cy="588.6" r="6.1" fill="#ff0000"/>
<circle cx="743.8" cy="654.9" r="6.1" fill="#ff0000"/>
<path d="M45.5 518 V693.3" stroke="#000" stroke-width="1.8" fill="none"/>
<path d="M44.6 692.6 H959" stroke="#000" stroke-width="1.6" fill="none"/>
<path d="M958.9 518 V693.3" stroke="#000" stroke-width="1.9" fill="none"/>
<path d="M38 692.5 H45 M959 692.5 H966 M38 663.4 H45 M959 663.4 H966 M38 634.3 H45 M959 634.3 H966 M38 605.1 H45 M959 605.1 H966 M38 576.0 H45 M959 576.0 H966 M38 546.9 H45 M959 546.9 H966" stroke="#000" stroke-width="2" fill="none"/>
<text x="23.53" y="697.30" style="letter-spacing:0.000px;">0</text>
<text x="970.67" y="697.30" style="letter-spacing:0.000px;">0</text>
<text x="5.13" y="668.18" style="letter-spacing:0.300px;">100</text>
<text x="970.50" y="668.18" style="letter-spacing:0.000px;">2</text>
<text x="5.13" y="639.06" style="letter-spacing:0.300px;">200</text>
<text x="970.93" y="639.06" style="letter-spacing:0.000px;">4</text>
<text x="5.13" y="609.94" style="letter-spacing:0.300px;">300</text>
<text x="970.49" y="609.94" style="letter-spacing:0.000px;">6</text>
<text x="5.13" y="580.82" style="letter-spacing:0.300px;">400</text>
<text x="970.60" y="580.82" style="letter-spacing:0.000px;">8</text>
<text x="16.73" y="532.50" style="letter-spacing:0.000px;">P</text>
<text x="8.56" y="551.50" style="letter-spacing:1.695px;">[W]</text>
<text x="966.89" y="533.00" style="letter-spacing:1.055px;">NPSH</text>
<text x="977.66" y="551.50" style="letter-spacing:1.281px;">[m]</text>
<text x="850.79" y="550.80" style="letter-spacing:-0.377px;fill:#004b8f;">P1</text>
<text x="850.69" y="604.80" style="letter-spacing:1.247px;fill:#004b8f;">P2</text>
<text x="47.59" y="718.50" style="letter-spacing:0.471px;">P1 = 455.9 W</text>
<text x="47.59" y="739.60" style="letter-spacing:0.471px;">P2 = 356.8 W</text>
<text x="47.59" y="761.50" style="letter-spacing:0.522px;">NPSH = 2.58 m</text>
</svg></body></html>
